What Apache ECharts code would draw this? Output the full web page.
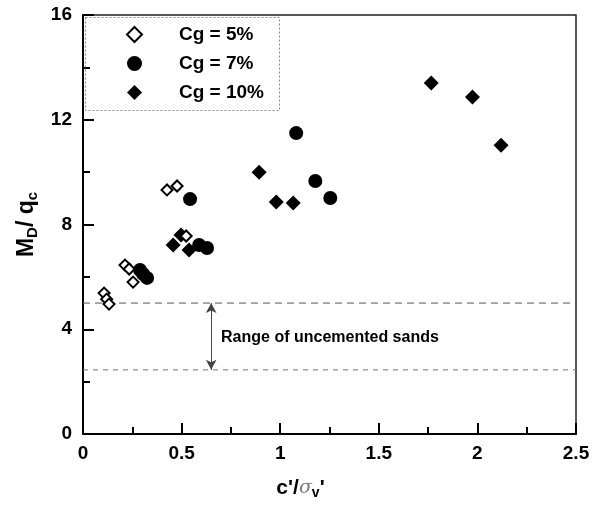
<!DOCTYPE html>
<html><head><meta charset="utf-8">
<script src="https://cdn.jsdelivr.net/npm/echarts@6/dist/echarts.min.js"></script>
<style>html,body{margin:0;padding:0;background:#fff}#c{width:600px;height:508px}</style>
</head><body><div id="c"></div>
<script>
var cg5 = [[0.107,5.38],[0.12,5.15],[0.132,4.96],[0.213,6.45],[0.234,6.30],[0.254,5.80],[0.426,9.32],[0.477,9.47],[0.523,7.56]];
var cg7 = [[0.289,6.26],[0.305,6.11],[0.325,5.96],[0.543,8.97],[0.589,7.22],[0.629,7.10],[1.081,11.49],[1.178,9.66],[1.254,9.01]];
var cg10 = [[0.457,7.22],[0.497,7.60],[0.538,7.03],[0.893,10.0],[0.98,8.86],[1.066,8.82],[1.766,13.40],[1.975,12.87],[2.12,11.03]];
var rangeLines = [5.0, 2.45];
var arrowX = 0.65;
var noteLabel = 'Range of uncemented sands';
var noteAt = [0.7, 3.7];
var seriesNames = ['Cg = 5%','Cg = 7%','Cg = 10%'];
var xTicks = [0, 0.5, 1, 1.5, 2, 2.5];
var yTicks = [0, 4, 8, 12, 16];

var chart = echarts.init(document.getElementById('c'), null, {renderer:'canvas'});
var F = 'Liberation Sans, Arial, sans-serif';
function fmt(v){ return String(v); }
chart.setOption({
  animation:false,
  backgroundColor:'#fff',
  grid:{left:83,right:24,top:15,bottom:74,show:true,borderColor:'#222',borderWidth:1.5},
  legend:{
    data:seriesNames, orient:'vertical', left:121, top:20, itemGap:10,
    itemWidth:15, itemHeight:15,
    textStyle:{fontFamily:F,fontWeight:'bold',fontSize:19,color:'#000',padding:[0,0,0,32]}
  },
  graphic:[{type:'rect',left:83,top:15,shape:{width:194,height:93},
    style:{fill:'none',stroke:'#888',lineWidth:1,lineDash:[2,2]},z:10}],
  xAxis:{type:'value',min:0,max:2.5,interval:0.5,
    name:"{c|c'/}{s|σ}{v|v}{c|'}",nameLocation:'middle',nameGap:42,
    nameTextStyle:{padding:[0,58,0,0],rich:{c:{fontFamily:F,fontWeight:'bold',fontSize:21,color:'#000'},
      s:{fontFamily:'DejaVu Serif, serif',fontStyle:'italic',fontSize:19,color:'#777'},
      v:{fontFamily:F,fontWeight:'bold',fontSize:14,color:'#000',verticalAlign:'bottom',padding:[10,0,0,0]}}},
    axisLine:{lineStyle:{color:'#000',width:2}},
    axisTick:{inside:true,length:11,lineStyle:{color:'#000',width:2}},
    minorTick:{show:true,splitNumber:2,length:7,lineStyle:{color:'#000',width:2}},
    splitLine:{show:false},
    axisLabel:{fontFamily:F,fontWeight:'bold',fontSize:19,color:'#000',margin:10,formatter:fmt}
  },
  yAxis:{type:'value',min:0,max:16,interval:4,
    name:'{a|M}{b|D}{a|/ q}{b|c}',nameLocation:'middle',nameGap:43,nameRotate:90,
    nameTextStyle:{rich:{a:{fontFamily:F,fontWeight:'bold',fontSize:23,color:'#000'},
      b:{fontFamily:F,fontWeight:'bold',fontSize:15,color:'#000',verticalAlign:'bottom',padding:[12,0,0,0]}}},
    axisLine:{lineStyle:{color:'#000',width:2}},
    axisTick:{inside:true,length:11,lineStyle:{color:'#000',width:2}},
    minorTick:{show:true,splitNumber:2,length:7,lineStyle:{color:'#000',width:2}},
    splitLine:{show:false},
    axisLabel:{fontFamily:F,fontWeight:'bold',fontSize:19,color:'#000',margin:11,formatter:fmt}
  },
  series:[
    {name:seriesNames[0],type:'scatter',data:cg5,symbol:'diamond',symbolSize:11,z:5,
      itemStyle:{color:'#fff',borderColor:'#000',borderWidth:2,opacity:1}},
    {name:seriesNames[1],type:'scatter',data:cg7,symbol:'circle',symbolSize:14,z:4,
      itemStyle:{color:'#000',opacity:1}},
    {name:seriesNames[2],type:'scatter',data:cg10,symbol:'diamond',symbolSize:15,z:4,
      itemStyle:{color:'#000',opacity:1}},
    {type:'line',data:[[0,rangeLines[0]],[2.5,rangeLines[0]]],symbol:'none',silent:true,
      lineStyle:{color:'#555',width:1,type:[7,5]}},
    {type:'line',data:[[0,rangeLines[1]],[2.5,rangeLines[1]]],symbol:'none',silent:true,
      lineStyle:{color:'#777',width:1,type:[5,5]}},
    {type:'scatter',data:[noteAt],symbolSize:0,silent:true,itemStyle:{opacity:1},
      label:{show:true,position:'right',distance:0,formatter:noteLabel,
        fontFamily:F,fontWeight:'bold',fontSize:16,color:'#000'},
      markLine:{silent:true,symbol:['arrow','arrow'],symbolSize:[8,10],
        lineStyle:{color:'#444',width:1,type:'solid',opacity:1},label:{show:false},
        data:[[{coord:[arrowX,rangeLines[0]]},{coord:[arrowX,rangeLines[1]]}]]}}
  ]
});
</script></body></html>
